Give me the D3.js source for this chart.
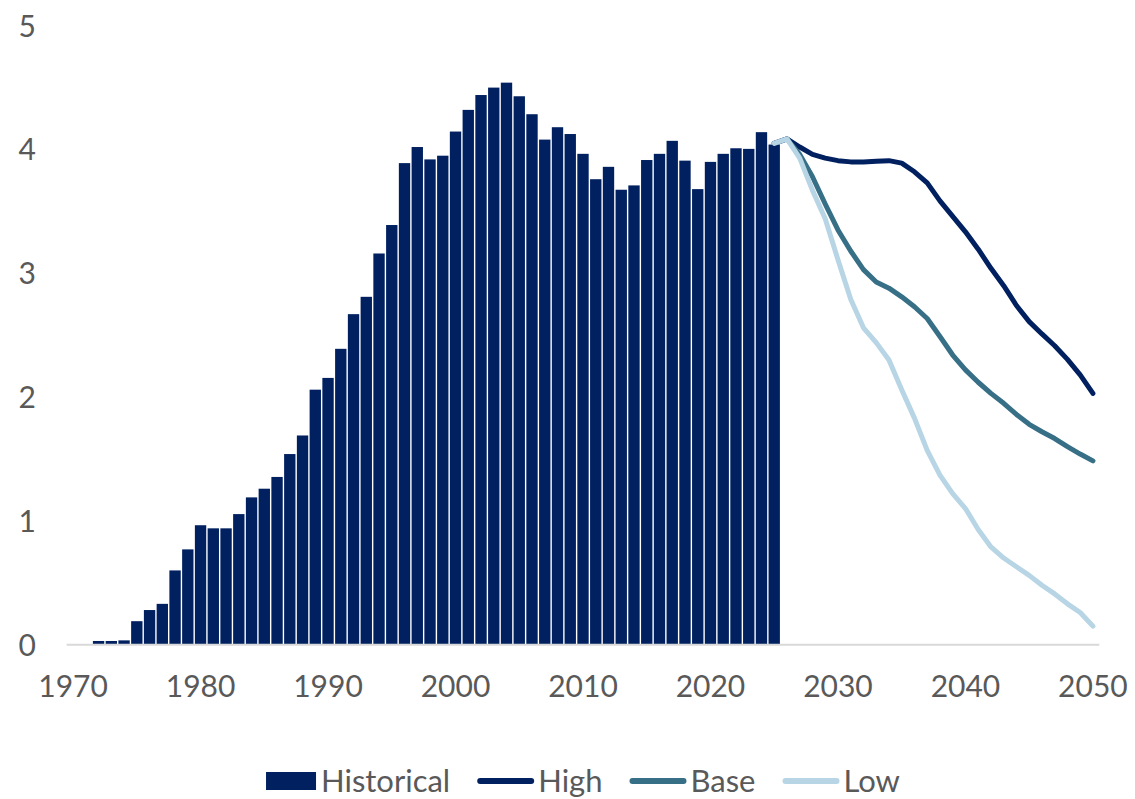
<!DOCTYPE html>
<html>
<head>
<meta charset="utf-8">
<script src="https://cdn.jsdelivr.net/npm/d3@7"></script>
<style>
  body { margin: 0; background: #fff; }
  svg { display: block; font-family: Lato, "Open Sans", sans-serif; }
</style>
</head>
<body>
<svg id="chart" width="1135" height="799"></svg>
<script>
// Data
var years = d3.range(1970, 2051);
var tickYears = [1970, 1980, 1990, 2000, 2010, 2020, 2030, 2040, 2050];
var yTicks = [0, 1, 2, 3, 4, 5];

var histYears = d3.range(1972, 2026);
var histValues = [
  0.03, 0.03, 0.035, 0.19, 0.28, 0.33, 0.60, 0.77, 0.965, 0.94,
  0.94, 1.055, 1.19, 1.26, 1.355, 1.54, 1.69, 2.06, 2.155, 2.39,
  2.67, 2.81, 3.16, 3.39, 3.89, 4.02, 3.92, 3.95, 4.145, 4.32,
  4.44, 4.50, 4.54, 4.43, 4.285, 4.08, 4.18, 4.125, 3.965, 3.76,
  3.86, 3.675, 3.71, 3.915, 3.965, 4.07, 3.91, 3.68, 3.90, 3.965,
  4.01, 4.005, 4.14, 4.04
];

var projYears = d3.range(2025, 2051);
var highValues = [
  4.05, 4.085, 4.02, 3.96, 3.93, 3.91, 3.90, 3.90, 3.905, 3.91,
  3.89, 3.82, 3.73, 3.585, 3.46, 3.335, 3.195, 3.04, 2.90, 2.74,
  2.61, 2.51, 2.415, 2.305, 2.18, 2.03
];
var baseValues = [
  4.05, 4.085, 3.96, 3.78, 3.56, 3.35, 3.18, 3.03, 2.93, 2.88,
  2.81, 2.73, 2.635, 2.49, 2.34, 2.22, 2.12, 2.03, 1.95, 1.86,
  1.78, 1.72, 1.665, 1.60, 1.54, 1.485
];
var lowValues = [
  4.05, 4.085, 3.93, 3.67, 3.44, 3.11, 2.79, 2.56, 2.44, 2.30,
  2.06, 1.83, 1.57, 1.37, 1.22, 1.10, 0.93, 0.79, 0.70, 0.63,
  0.56, 0.48, 0.41, 0.33, 0.26, 0.15
];

var seriesNames = ["Historical", "High", "Base", "Low"];
var colors = ["#002060", "#002060", "#376f87", "#b7d5e4"];

/**
 * Layout
 */
var svg = d3.select("#chart");
var plotLeft = 66.7, plotRight = 1099.3, plotTop = 25.7, plotBottom = 644.7;
var textColor = "#595959";

var xScale = d3.scaleBand().domain(years).range([plotLeft, plotRight]).padding(0);
var yScale = d3.scaleLinear().domain([0, 5]).range([plotBottom, plotTop]);
var bw = xScale.bandwidth();

// Y labels (no axis line, no gridlines)
svg.append("g")
  .selectAll("text")
  .data(yTicks)
  .enter()
  .append("text")
  .attr("x", 36)
  .attr("y", function(d) { return yScale(d); })
  .attr("dy", "0.36em")
  .attr("text-anchor", "end")
  .attr("fill", textColor)
  .style("font-size", "30px")
  .text(function(d) { return d; });

// Bars
svg.append("g")
  .selectAll("rect")
  .data(histYears)
  .enter()
  .append("rect")
  .attr("x", function(d) { return xScale(d) + 0.7; })
  .attr("width", bw - 1.4)
  .attr("y", function(d, i) { return yScale(histValues[i]); })
  .attr("height", function(d, i) { return yScale(0) - yScale(histValues[i]); })
  .attr("fill", colors[0]);

// X axis line
svg.append("line")
  .attr("x1", plotLeft).attr("x2", plotRight)
  .attr("y1", yScale(0)).attr("y2", yScale(0))
  .attr("stroke", "#d9d9d9")
  .attr("stroke-width", 2);

// X labels
svg.append("g")
  .selectAll("text")
  .data(tickYears)
  .enter()
  .append("text")
  .attr("x", function(d) { return xScale(d) + bw / 2; })
  .attr("y", 697)
  .attr("text-anchor", "middle")
  .attr("fill", textColor)
  .style("font-size", "30px")
  .text(function(d) { return d; });

// Projection lines
var line = d3.line()
  .x(function(d) { return xScale(d.year) + bw / 2; })
  .y(function(d) { return yScale(d.value); });

[highValues, baseValues, lowValues].forEach(function(vals, k) {
  var pts = projYears.map(function(yr, i) { return { year: yr, value: vals[i] }; });
  svg.append("path")
    .datum(pts)
    .attr("d", line)
    .attr("fill", "none")
    .attr("stroke", colors[k + 1])
    .attr("stroke-width", 5)
    .attr("stroke-linecap", "round")
    .attr("stroke-linejoin", "round");
});

// Legend (nudged up a little so descenders stay inside the frame)
var legend = svg.append("g");
var legendY = 781;
var cursor = 0;
seriesNames.forEach(function(name, i) {
  var item = legend.append("g").attr("transform", "translate(" + cursor + ",0)");
  var symW;
  if (i === 0) {
    symW = 50;
    item.append("rect")
      .attr("x", 0).attr("y", legendY - 9)
      .attr("width", symW).attr("height", 18)
      .attr("fill", colors[0]);
  } else {
    symW = 55;
    item.append("line")
      .attr("x1", 2).attr("x2", symW - 2)
      .attr("y1", legendY).attr("y2", legendY)
      .attr("stroke", colors[i])
      .attr("stroke-width", 6)
      .attr("stroke-linecap", "round");
  }
  var t = item.append("text")
    .attr("x", symW + 5)
    .attr("y", legendY + 11)
    .attr("fill", textColor)
    .style("font-size", "31px")
    .text(name);
  cursor += symW + 5 + t.node().getComputedTextLength() + 28;
});
cursor -= 28;
legend.attr("transform", "translate(" + ((plotLeft + plotRight) / 2 - cursor / 2) + ",0)");
</script>
</body>
</html>
